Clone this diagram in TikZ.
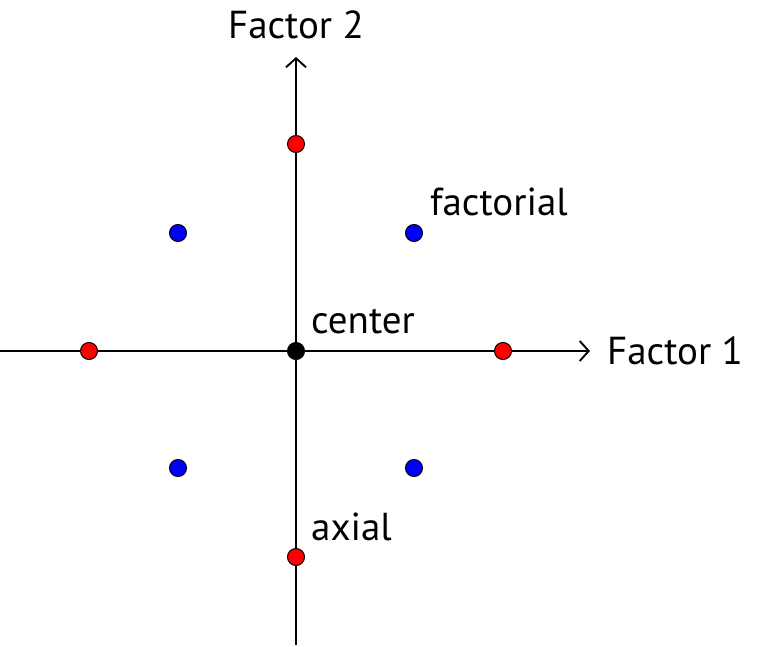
\documentclass[tikz,border=0pt]{standalone}
\usepackage{fontspec}
\setmainfont{PT Sans}
\usetikzlibrary{arrows.meta}
\begin{document}
\begin{tikzpicture}[x=1pt,y=-1pt,
  axis/.style={line width=1.9pt,-{Straight Barb[length=9pt,width=20pt,line width=1.9pt]}},
  pt/.style={circle,draw=black,line width=1pt,inner sep=0pt,minimum size=17pt},
  lbl/.style={font=\fontsize{39}{44}\selectfont,inner sep=0pt,anchor=base west}]
\useasboundingbox (0,0) rectangle (758,647);
\coordinate (xl) at (0,351);
\coordinate (xr) at (590,351);
\coordinate (yb) at (296,645);
\coordinate (yt) at (296,57);
\draw[axis] (xl) -- (xr);
\draw[axis] (yb) -- (yt);
\node[lbl,anchor=base] (f2) at (296,39) {Factor 2};
\node[lbl] (f1) at (607,364) {Factor 1};
\node[pt,fill=red] (a1) at (89,351) {};
\node[pt,fill=red] (a2) at (503,351) {};
\node[pt,fill=red] (a3) at (296,144) {};
\node[pt,fill=red] (a4) at (296,557) {};
\node[pt,fill=blue] (b1) at (178,233) {};
\node[pt,fill=blue] (b2) at (414,233) {};
\node[pt,fill=blue] (b3) at (178,468) {};
\node[pt,fill=blue] (b4) at (414,468) {};
\node[pt,fill=black] (c) at (296,351) {};
\node[lbl] (lf) at (430,216) {factorial};
\node[lbl] (lc) at (311,334) {center};
\node[lbl] (la) at (311,540) {axial};
\end{tikzpicture}
\end{document}
